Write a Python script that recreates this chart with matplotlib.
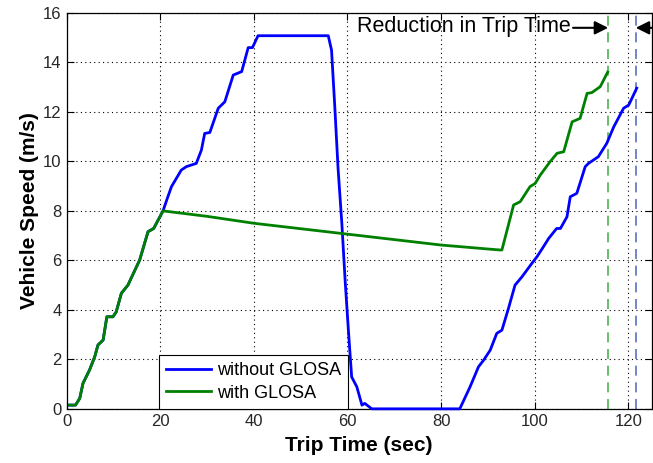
import matplotlib
matplotlib.use("Agg")
import matplotlib.pyplot as plt

plt.rcParams['font.family'] = ['Liberation Sans', 'DejaVu Sans']

# ---- data ----
accel_t = [0.6, 1.9, 2.8, 3.5, 4.9, 6.0, 6.7, 7.8, 8.6, 9.9, 10.6, 11.7, 13.1,
           15.6, 17.4, 18.6, 20.6]
accel_v = [0.15, 0.15, 0.42, 1.03, 1.57, 2.1, 2.58, 2.78, 3.72, 3.72, 3.92, 4.67,
           5.0, 6.01, 7.16, 7.29, 8.0]

glosa_t = accel_t + [30, 40, 50, 60, 70, 80, 90, 92.6, 93.0, 95.5, 96.9, 99.0,
                     100.1, 101.2, 103.3, 104.8, 106.2, 108.0, 109.7, 111.2,
                     112.2, 114.0, 115.6]
glosa_v = accel_v + [7.78, 7.5, 7.28, 7.06, 6.84, 6.62, 6.46, 6.42, 6.42, 8.24,
                     8.37, 8.98, 9.11, 9.45, 9.99, 10.33, 10.39, 11.6, 11.74,
                     12.75, 12.78, 13.02, 13.61]

noglosa_t = accel_t + [21.5, 22.4, 24.5, 25.6, 27.7, 28.8, 29.5, 30.6, 32.4, 33.8,
                       35.6, 37.4, 38.8, 39.7, 40.9, 55.9, 56.6, 57.3, 58.0, 58.8,
                       59.5, 60.2, 60.9, 62.0, 63.1, 63.7, 65.2, 84.0, 86.2, 88.0,
                       89.1, 90.5, 91.9, 93.0, 94.4, 95.8, 97.3, 99.4, 100.5,
                       101.5, 103.0, 104.7, 105.5, 106.9, 107.6, 109.0, 110.8,
                       111.5, 113.6, 115.4, 116.9, 119.0, 120.1, 121.8]
noglosa_v = accel_v + [8.5, 8.98, 9.65, 9.79, 9.92, 10.46, 11.13, 11.17, 12.15,
                       12.41, 13.49, 13.63, 14.6, 14.6, 15.08, 15.08, 14.5, 12.2,
                       9.7, 7.5, 5.2, 3.18, 1.29, 0.89, 0.15, 0.22, 0.0, 0.0,
                       0.89, 1.70, 1.97, 2.37, 3.05, 3.18, 4.06, 5.0, 5.34, 5.88,
                       6.15, 6.44, 6.89, 7.29, 7.29, 7.76, 8.57, 8.71, 9.79, 9.92,
                       10.19, 10.73, 11.4, 12.15, 12.28, 12.96]

trip_end_glosa = 115.7
trip_end_noglosa = 121.6

series_labels = ['without GLOSA', 'with GLOSA']
annotation_text = 'Reduction in Trip Time'
xticks = [0, 20, 40, 60, 80, 100, 120]
yticks = [0, 2, 4, 6, 8, 10, 12, 14, 16]

# ---- figure ----
fig = plt.figure(figsize=(6.53, 4.63), dpi=100)
ax = fig.add_axes([0.102, 0.117, 0.896, 0.855])

ax.plot(noglosa_t, noglosa_v, color='#0000ff', lw=2.0, label=series_labels[0],
        zorder=3, clip_on=False)
ax.plot(glosa_t, glosa_v, color='#008000', lw=2.0, label=series_labels[1],
        zorder=3, clip_on=False)

ax.axvline(trip_end_glosa, color='#4fb34f', lw=1.2, ls=(0, (6, 4)), zorder=2)
ax.axvline(trip_end_noglosa, color='#5a72c0', lw=1.2, ls=(0, (6, 4)), zorder=2)

ax.set_xlim(0, 125)
ax.set_ylim(0, 16)
ax.set_xticks(xticks)
ax.set_yticks(yticks)
ax.grid(True, color='black', ls=(0, (1, 3)), lw=0.8)
ax.tick_params(direction='in', length=5, top=True, right=True,
               labelsize=12, labelcolor='#262626', width=0.8)
for s in ax.spines.values():
    s.set_linewidth(0.9)

ax.set_xlabel('Trip Time (sec)', fontsize=15, fontweight='bold', labelpad=5)
ax.set_ylabel('Vehicle Speed (m/s)', fontsize=15, fontweight='bold', labelpad=3)

leg = ax.legend(loc='lower left', bbox_to_anchor=(0.1575, 0.0), fontsize=13,
                fancybox=False, edgecolor='black', framealpha=1,
                handlelength=2.5, handletextpad=0.3, borderpad=0.4,
                labelspacing=0.3, borderaxespad=0)
leg.get_frame().set_linewidth(0.8)

y_arrow = 15.4
ax.text(62.0, 15.45, annotation_text, fontsize=15.5, va='center', ha='left')
ax.annotate('', xy=(trip_end_glosa, y_arrow), xytext=(108.2, y_arrow),
            arrowprops=dict(arrowstyle='-|>', color='black', lw=1.5,
                            mutation_scale=20, shrinkA=0, shrinkB=0))
ax.annotate('', xy=(trip_end_noglosa, y_arrow), xytext=(128.0, y_arrow),
            arrowprops=dict(arrowstyle='-|>', color='black', lw=1.5,
                            mutation_scale=20, shrinkA=0, shrinkB=0),
            annotation_clip=False)

fig.savefig('out.png', dpi=100)
